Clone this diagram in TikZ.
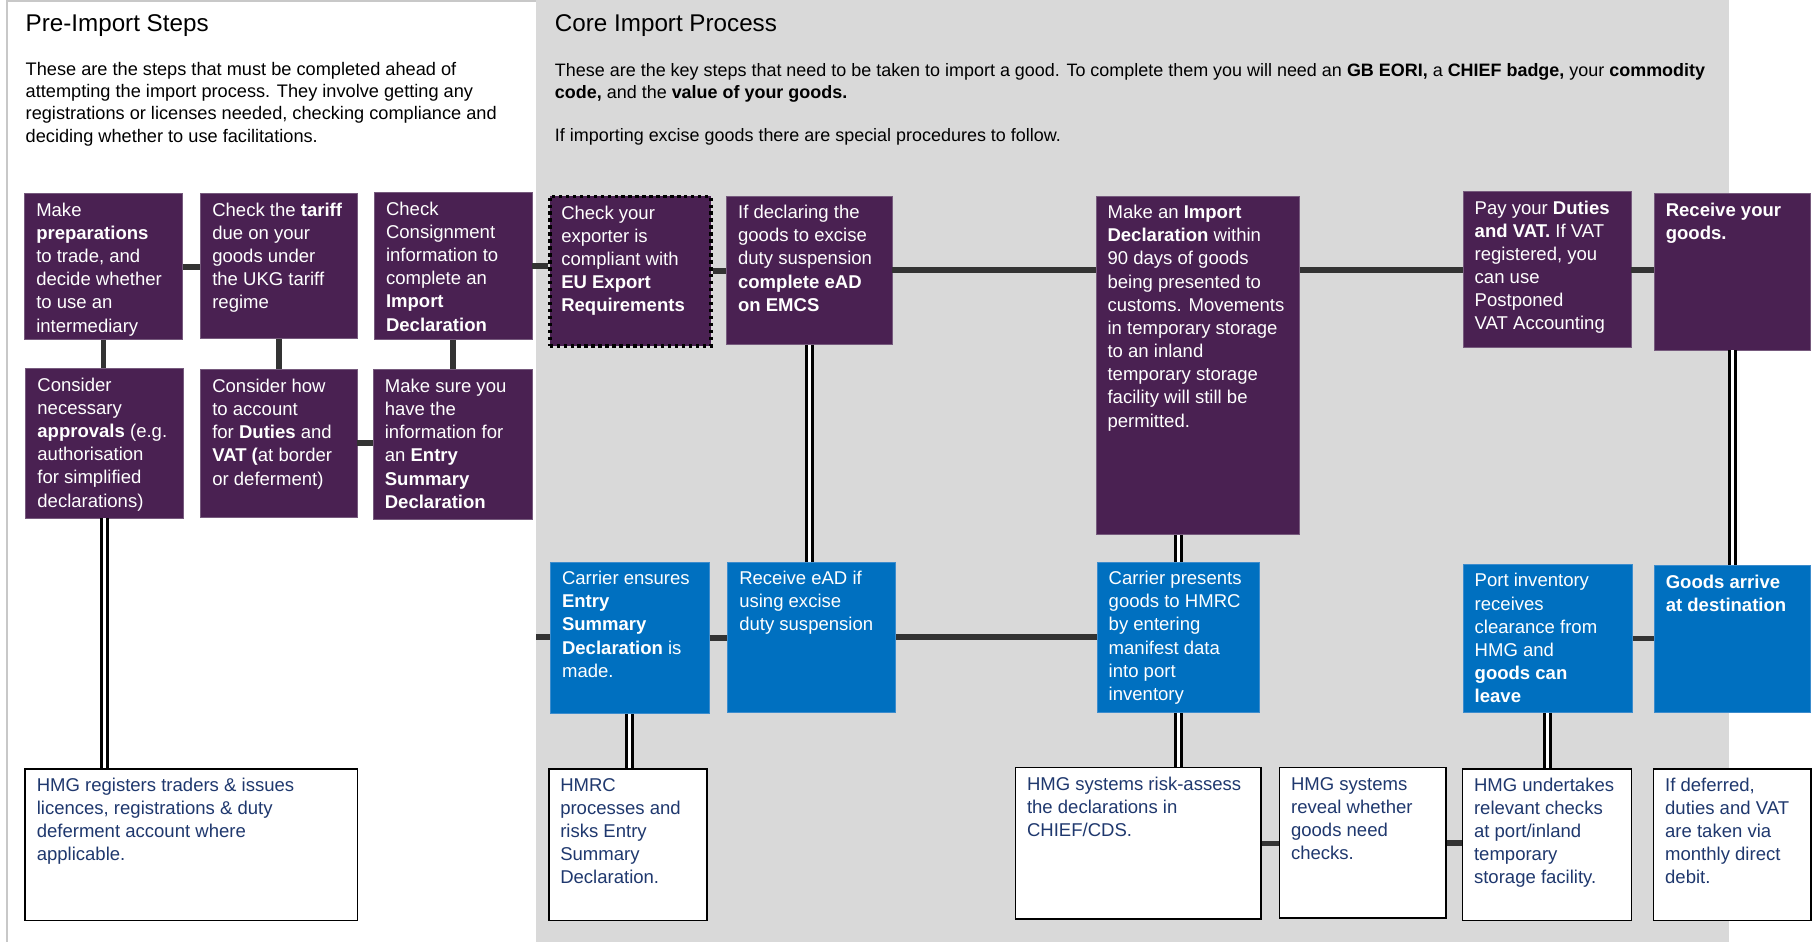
\documentclass[tikz,border=0pt]{standalone}
\usepackage{fontspec}
\setmainfont{Liberation Sans}
\definecolor{impurple}{RGB}{74,33,82}
\definecolor{imedge}{RGB}{118,90,125}
\definecolor{imblue}{RGB}{0,112,192}
\definecolor{imblueedge}{RGB}{60,140,205}
\definecolor{imgray}{RGB}{217,217,217}
\definecolor{imnavy}{RGB}{31,56,110}
\definecolor{imlink}{RGB}{51,51,51}
\definecolor{impanel}{RGB}{200,200,200}
\newcommand{\stepfont}{\fontsize{16}{20}\selectfont}
\newcommand{\parafont}{\fontsize{15.7}{19.2}\selectfont}
\newcommand{\corefont}{\fontsize{15.5}{19.2}\selectfont}
\newcommand{\stepbody}[3]{\parbox[t][#2pt][t]{#1pt}{\raggedright\leftskip=10pt\rightskip=-40pt plus 1fil\vspace*{5.5pt}\strut#3}}
\tikzset{
  stepbase/.style={anchor=north west, inner sep=0pt, font=\stepfont, line width=0.6pt},
  pstep/.style={stepbase, fill=impurple, draw=imedge, text=white},
  bstep/.style={stepbase, fill=imblue, draw=imblueedge, text=white},
  hstep/.style={stepbase, fill=white, draw=black, line width=1.5pt, text=imnavy},
  link/.style={draw=imlink, line width=5pt},
  dlink/.style={draw=black, line width=2.4pt, double=white, double distance=2.8pt},
  heading/.style={anchor=base west, inner sep=0pt, font=\fontsize{20.9}{24}\selectfont},
  para/.style={anchor=north west, inner sep=0pt, align=left, font=\parafont}
}
\begin{document}
\begin{tikzpicture}[x=1pt, y=-1pt]
  \useasboundingbox (0,0) rectangle (1568,813);
  % panels
  \fill[white] (0,0) rectangle (1568,813);
  \fill[imgray] (463,0) rectangle (1493,813);
  \draw[impanel, line width=1.2pt] (6,813) -- (6,1) -- (463,1);
  \node[heading] (pretitle) at (22,27) {Pre-Import Steps};
  \node[heading] (coretitle) at (479,27) {Core Import Process};
  \node[para] (preintro) at (22,51.5) {\strut These are the steps that must be completed ahead of\\
    attempting the import process. They involve getting any\\
    registrations or licenses needed, checking compliance and\\
    deciding whether to use facilitations.};
  \node[para, font=\corefont] (coreintro) at (479,52.5) {\strut These are the key steps that need to be taken to import a good. To complete them you will need an \textbf{GB EORI,} a \textbf{CHIEF badge,} your \textbf{commodity}\\
    \textbf{code,} and the \textbf{value of your goods.}};
  \node[para, font=\corefont] (excisenote) at (479,108.5) {\strut If importing excise goods there are special procedures to follow.};

  % pre-import steps
  \node[pstep] (prep) at (21,167) {\stepbody{136}{126}{Make\\ \textbf{preparations}\\ to trade, and\\ decide whether\\ to use an\\ intermediary}};
  \node[pstep] (tariff) at (173,167) {\stepbody{135}{125}{Check the \textbf{tariff}\\ due on your\\ goods under\\ the UKG tariff\\ regime}};
  \node[pstep] (consign) at (323,166) {\stepbody{136}{127}{Check\\ Consignment\\ information to\\ complete an\\ \textbf{Import}\\ \textbf{Declaration}}};
  \node[pstep] (approv) at (22,318) {\stepbody{136}{129}{Consider\\ necessary\\ \textbf{approvals} (e.g.\\ authorisation\\ for simplified\\ declarations)}};
  \node[pstep] (account) at (173,319) {\stepbody{135}{127}{Consider how\\ to account\\ for \textbf{Duties} and\\ \textbf{VAT (}at border\\ or deferment)}};
  \node[pstep] (entryinfo) at (322,319) {\stepbody{137}{129}{Make sure you\\ have the\\ information for\\ an \textbf{Entry}\\ \textbf{Summary}\\ \textbf{Declaration}}};

  % core import process
  \node[pstep, draw=black, line width=3.2pt, dash pattern=on 3pt off 3pt] (exporter) at (473,168) {\stepbody{139}{129}{Check your\\ exporter is\\ compliant with\\ \textbf{EU Export}\\ \textbf{Requirements}}};
  \node[pstep] (excise) at (627,169) {\stepbody{143}{128}{If declaring the\\ goods to excise\\ duty suspension\\ \textbf{complete eAD}\\ \textbf{on EMCS}}};
  \node[pstep] (impdecl) at (946,169) {\stepbody{176}{292}{Make an \textbf{Import}\\ \textbf{Declaration} within\\ 90 days of goods\\ being presented to\\ customs. Movements\\ in temporary storage\\ to an inland\\ temporary storage\\ facility will still be\\ permitted.}};
  \node[pstep] (pay) at (1263,165) {\stepbody{145}{135}{Pay your \textbf{Duties}\\ \textbf{and VAT.} If VAT\\ registered, you\\ can use\\ Postponed\\ VAT Accounting}};
  \node[pstep] (receive) at (1428,167) {\stepbody{135}{135}{\textbf{Receive your}\\ \textbf{goods.}}};

  \node[bstep] (ensures) at (475,485) {\stepbody{137}{131}{Carrier ensures\\ \textbf{Entry}\\ \textbf{Summary}\\ \textbf{Declaration} is\\ made.}};
  \node[bstep] (ead) at (628,485) {\stepbody{145}{130}{Receive eAD if\\ using excise\\ duty suspension}};
  \node[bstep] (presents) at (947,485) {\stepbody{140}{130}{Carrier presents\\ goods to HMRC\\ by entering\\ manifest data\\ into port\\ inventory}};
  \node[bstep] (clearance) at (1263,487) {\stepbody{146}{128}{Port inventory\\ receives\\ clearance from\\ HMG and\\ \textbf{goods can}\\ \textbf{leave}}};
  \node[bstep] (arrive) at (1428,488) {\stepbody{135}{127}{\textbf{Goods arrive}\\ \textbf{at destination}}};

  % HMG side
  \node[hstep] (register) at (21,663) {\stepbody{287}{131}{HMG registers traders \& issues\\ licences, registrations \& duty\\ deferment account where\\ applicable.}};
  \node[hstep] (esproc) at (473,663) {\stepbody{137}{131}{HMRC\\ processes and\\ risks Entry\\ Summary\\ Declaration.}};
  \node[hstep] (riskassess) at (876,662) {\stepbody{212}{131}{HMG systems risk-assess\\ the declarations in\\ CHIEF/CDS.}};
  \node[hstep] (reveal) at (1104,662) {\stepbody{144}{130}{HMG systems\\ reveal whether\\ goods need\\ checks.}};
  \node[hstep] (checks) at (1262,663) {\stepbody{146}{131}{HMG undertakes\\ relevant checks\\ at port/inland\\ temporary\\ storage facility.}};
  \node[hstep] (debit) at (1427,663) {\stepbody{136}{131}{If deferred,\\ duties and VAT\\ are taken via\\ monthly direct\\ debit.}};

  % links
  \draw[link] (prep.east) -- (prep.east -| tariff.west);
  \draw[link] (consign.east) -- (consign.east -| exporter.west);
  \draw[link] (exporter.east) -- (exporter.east -| excise.west);
  \draw[link] (excise.east) -- (excise.east -| impdecl.west);
  \draw[link] (pay.west -| impdecl.east) -- (pay.west);
  \draw[link] (pay.east) -- (pay.east -| receive.west);
  \draw[link] (prep.south) -- (prep.south |- approv.north);
  \draw[link] (tariff.south) -- (tariff.south |- account.north);
  \draw[link] (consign.south) -- (consign.south |- entryinfo.north);
  \draw[link] (account.east) -- (account.east -| entryinfo.west);
  \coordinate (gate) at (463,550);
  \draw[link] (gate) -- (gate -| ensures.west);
  \draw[link] (ensures.east) -- (ensures.east -| ead.west);
  \draw[link] (ead.east) -- (ead.east -| presents.west);
  \draw[link] (clearance.east) -- (clearance.east -| arrive.west);
  \draw[link] (riskassess.east) -- (riskassess.east -| reveal.west);
  \draw[link] (reveal.east) -- (reveal.east -| checks.west);

  % double links
  \draw[dlink] (approv.south) -- (approv.south |- register.north);
  \draw[dlink] (excise.south) -- (excise.south |- ead.north);
  \draw[dlink] (presents.north) -- (presents.north |- impdecl.south);
  \draw[dlink] (receive.south) -- (receive.south |- arrive.north);
  \draw[dlink] (ensures.south) -- (ensures.south |- esproc.north);
  \draw[dlink] (presents.south) -- (presents.south |- riskassess.north);
  \draw[dlink] (clearance.south) -- (clearance.south |- checks.north);
\end{tikzpicture}
\end{document}
